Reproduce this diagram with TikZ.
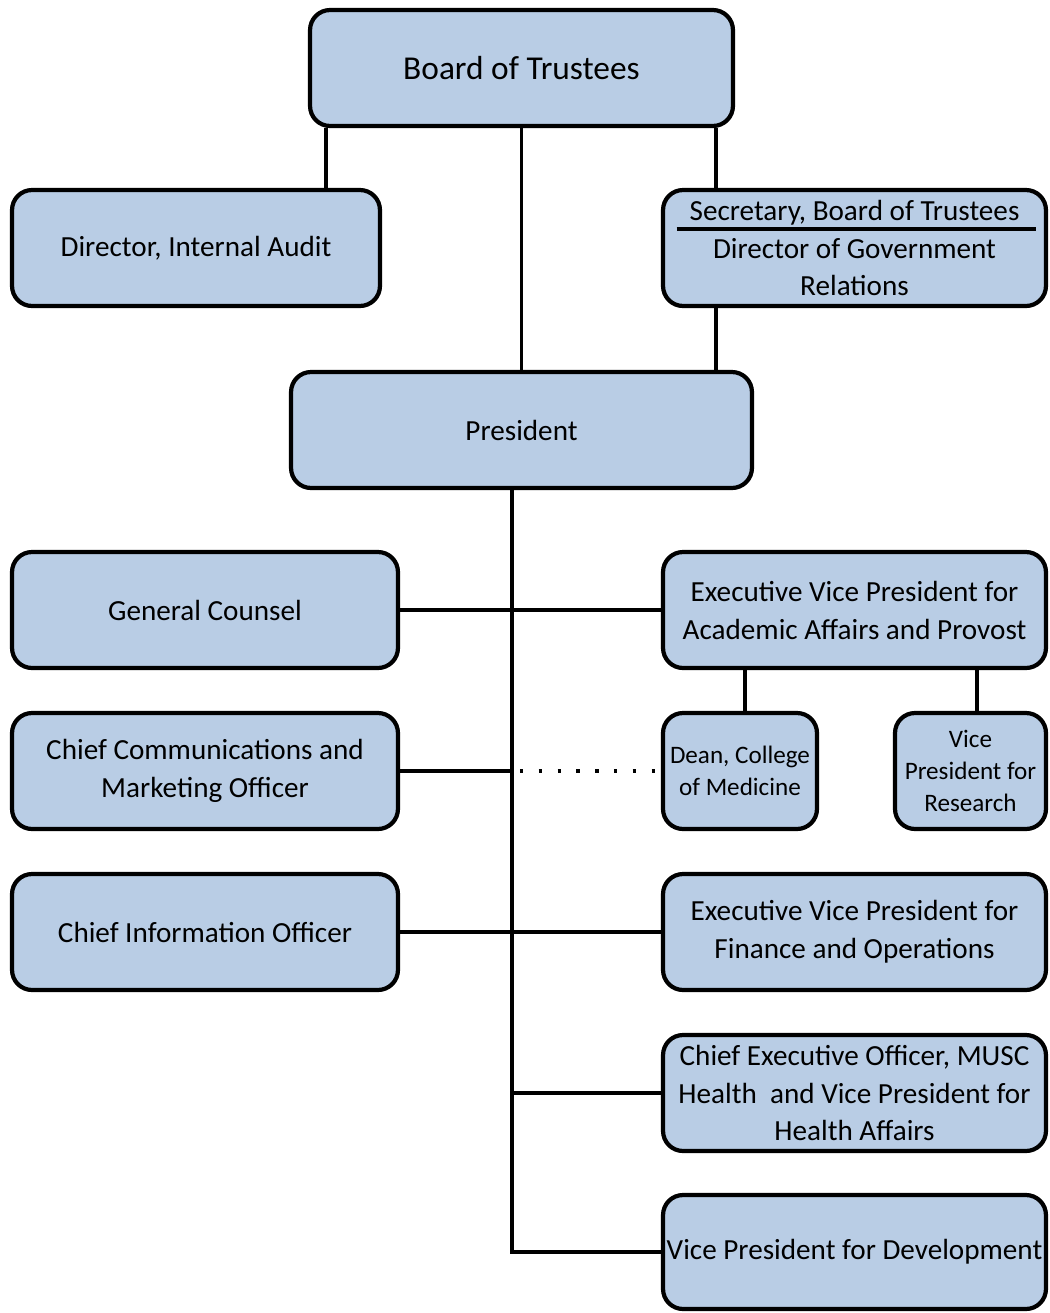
\documentclass[tikz,border=0pt]{standalone}
\usepackage{fontspec}
\setmainfont{Carlito}
\usepackage{tikz}
\usetikzlibrary{calc}
\definecolor{light blue}{RGB}{185,205,229}
\tikzstyle{office}=[draw,line width=2.4pt,fill=light blue,rounded corners=0.4cm,minimum width=7.66cm,minimum height=2.32cm,inner sep=1pt,align=center,font=\fontsize{16.6}{21.6}\selectfont]
\tikzstyle{link}=[line width=1.9pt]

\begin{document}
\begin{tikzpicture}[
  x=0.02cm, y=-0.02cm,
  top office/.style={office,minimum width=8.46cm,font=\fontsize{19}{22}\selectfont},
  wide office/.style={office,minimum width=9.22cm},
  left office/.style={office,minimum width=7.72cm},
  small office/.style={office,minimum width=3.06cm,font=\fontsize{14.3}{18.2}\selectfont},
  dotted link/.style={line width=2pt,dash pattern=on 2pt off 8.7pt,shorten <=4.5pt},
]
  \useasboundingbox (0,0) rectangle (1050,1313);
  % boxes
  \node[top office] (board) at (521.5,68) {Board of Trustees};
  \node[office,minimum width=7.36cm] (audit) at (196,248) {Director, Internal Audit};
  \node[office] (secr) at (854.5,248) {Secretary, Board of Trustees\\Director of Government\\Relations};
  \node[wide office] (pres) at (521.5,430) {President};
  \node[left office] (counsel) at (205,610) {General Counsel};
  \node[office] (evpaa) at (854.5,610) {Executive Vice President for\\Academic Affairs and Provost};
  \node[left office] (comm) at (205,771) {Chief Communications and\\Marketing Officer};
  \node[small office,minimum width=3.08cm] (dean) at (740,771) {Dean, College\\of Medicine};
  \node[small office,minimum width=3.02cm] (vpr) at (970.5,771) {Vice\\President for\\Research};
  \node[left office] (cio) at (205,932) {Chief Information Officer};
  \node[office] (evpfo) at (854.5,932) {Executive Vice President for\\Finance and Operations};
  \node[office] (ceo) at (854.5,1093) {Chief Executive Officer, MUSC\\Health\ \ and Vice President for\\Health Affairs};
  \node[office,minimum height=2.28cm] (vpd) at (854.5,1252) {Vice President for Development};
  \draw[line width=2.4pt] ($(secr.center)+(-178,-19)$) -- ($(secr.center)+(181,-19)$);

  % where the lines run
  \coordinate (xa) at (326,0);
  \coordinate (xs) at (716,0);
  \coordinate (xt) at (512,0);
  \coordinate (xd) at (745,0);
  \coordinate (xr) at (977,0);

  % lines
  \draw[link] (board.south -| xa) -- (audit.north -| xa);
  \draw[link] (board.south -| xs) -- (secr.north -| xs);
  \draw[link] (secr.south -| xs) -- (pres.north -| xs);
  \draw[link] (board) -- (pres);
  \draw[link] (pres.south -| xt) -- (vpd.west -| xt) -- (vpd.west);
  \draw[link] (counsel) -- (evpaa);
  \draw[link] (comm.east) -- (comm.east -| xt);
  \draw[dotted link] (comm.east -| xt) -- (dean.west);
  \draw[link] (cio) -- (evpfo);
  \draw[link] (ceo.west -| xt) -- (ceo.west);
  \draw[link] (evpaa.south -| xd) -- (dean.north -| xd);
  \draw[link] (evpaa.south -| xr) -- (vpr.north -| xr);
\end{tikzpicture}
\end{document}
